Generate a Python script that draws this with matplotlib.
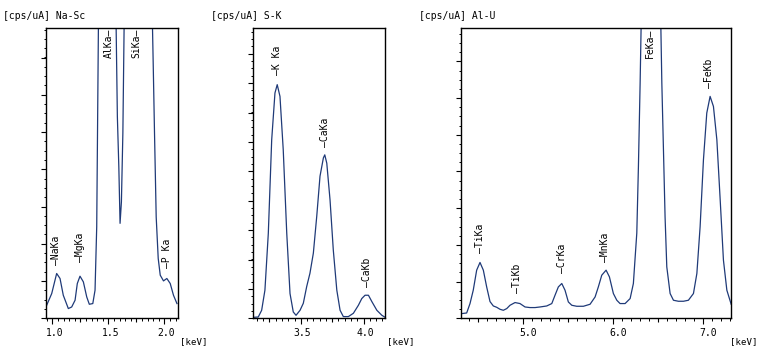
import matplotlib
matplotlib.use("Agg")
import matplotlib.pyplot as plt
import matplotlib.transforms as mtransforms
from matplotlib.ticker import MultipleLocator, FormatStrFormatter

# ---------------- data (energy in keV, intensity in arbitrary units) ----------------
# Panel 1: Na-Sc
energy_nasc = [0.950, 0.995, 1.039, 1.069, 1.098, 1.143, 1.173, 1.203, 1.223, 1.247,
               1.277, 1.307, 1.330, 1.361, 1.381, 1.396, 1.411, 1.440, 1.487, 1.530,
               1.569, 1.580, 1.593, 1.604, 1.616, 1.629, 1.640, 1.680, 1.740, 1.800,
               1.860, 1.893, 1.899, 1.911, 1.926, 1.944, 1.962, 1.991, 2.021, 2.051,
               2.080, 2.111]
counts_nasc = [13, 24.7, 44.7, 39.7, 23, 9.7, 11.3, 18, 34.7, 42,
               36.3, 21.3, 14, 14.7, 28, 91.3, 290, 600, 900, 600,
               290, 201, 151, 94.7, 116, 184.7, 290, 600, 950, 900,
               500, 290, 256, 184.7, 101, 59.7, 43, 37.3, 39.7, 34.7,
               23, 14.7]

# Panel 2: S-K
energy_sk = [3.127, 3.161, 3.188, 3.214, 3.241, 3.268, 3.294, 3.312, 3.334, 3.360,
             3.388, 3.414, 3.440, 3.462, 3.494, 3.520, 3.547, 3.573, 3.600, 3.627,
             3.653, 3.680, 3.691, 3.707, 3.733, 3.759, 3.787, 3.813, 3.839, 3.879,
             3.919, 3.959, 3.986, 4.012, 4.039, 4.066, 4.106, 4.146, 4.172]
counts_sk = [1, 1.3, 8, 28, 84.7, 178, 224.7, 233, 221.3, 168,
             84.7, 24.7, 6.3, 3, 8, 15, 31.7, 45, 65, 101.7,
             141.7, 160, 163, 154.7, 118, 68, 28, 8, 1.7, 1.7,
             5, 13, 19.7, 23, 23, 16.7, 8, 3, 1]

# Panel 3: Al-U
energy_alu = [4.316, 4.371, 4.408, 4.444, 4.482, 4.519, 4.556, 4.593, 4.630, 4.667,
              4.704, 4.741, 4.778, 4.816, 4.852, 4.908, 4.963, 5.019, 5.074, 5.130,
              5.186, 5.260, 5.316, 5.352, 5.389, 5.427, 5.463, 5.500, 5.538, 5.593,
              5.667, 5.741, 5.797, 5.833, 5.871, 5.919, 5.956, 6.000, 6.038, 6.074,
              6.130, 6.186, 6.222, 6.260, 6.278, 6.297, 6.308, 6.350, 6.400, 6.450,
              6.500, 6.527, 6.538, 6.556, 6.574, 6.593, 6.630, 6.667, 6.722, 6.778,
              6.833, 6.889, 6.927, 6.963, 7.000, 7.037, 7.074, 7.111, 7.149, 7.186,
              7.222, 7.260, 7.308]
counts_alu = [4.7, 5.3, 14.7, 28, 48, 55.7, 48, 31.3, 16.7, 12.3,
              11, 9, 8, 9.7, 13, 15.7, 14.7, 11.3, 10.7, 10.7,
              11.3, 12.3, 14.7, 23, 31.3, 34.7, 28, 16.3, 13, 12,
              12, 14, 21.3, 31.3, 43, 48, 41.3, 24.7, 18, 14.7,
              14.7, 19.7, 34.7, 85, 151.3, 234.7, 291, 600, 900, 850,
              550, 291, 234.7, 168, 101, 51.3, 24.7, 18, 17, 17,
              18, 24.7, 44.7, 91.3, 158, 204.7, 221.3, 211.3, 178, 118,
              58, 28, 14]

titles = ["[cps/uA] Na-Sc", "[cps/uA] S-K", "[cps/uA] Al-U"]

peak_names_nasc = ["—NaKa", "—MgKa", "AlKa—", "SiKa—", "—P Ka"]
peak_keV_nasc = [1.035, 1.247, 1.506, 1.747, 2.024]
peak_names_sk = ["—K Ka", "—CaKa", "—CaKb"]
peak_keV_sk = [3.313, 3.693, 4.026]
peak_names_alu = ["—TiKa", "—TiKb", "—CrKa", "—MnKa", "FeKa—", "—FeKb"]
peak_keV_alu = [4.519, 4.933, 5.433, 5.908, 6.408, 7.067]

# ---------------- styling / layout ----------------
LINE = "#1f3a78"
FONT = "DejaVu Sans Mono"
FS = 7

fig = plt.figure(figsize=(7.6, 3.5), dpi=100)
W, H = 760.0, 350.0
top_px, bot_px = 27.5, 318.3


def make_axes(left, right):
    return fig.add_axes([left / W, (H - bot_px) / H, (right - left) / W, (bot_px - top_px) / H])


panels = [
    dict(ax=make_axes(46, 178.3), e=energy_nasc, c=counts_nasc, xlim=(0.944, 2.123),
         major=0.5, mid=0.25, minor=0.05, ymaj=37.15, ymin=9.29,
         names=peak_names_nasc, pk=peak_keV_nasc, base=[53, 56, None, None, 50],
         labdx=2.0, title_x=3, unit_x=180, unit_ha="left"),
    dict(ax=make_axes(253, 385), e=energy_sk, c=counts_sk, xlim=(3.119, 4.171),
         major=0.5, mid=0.25, minor=0.05, ymaj=29.3, ymin=7.33,
         names=peak_names_sk, pk=peak_keV_sk, base=[243, 171, 31],
         labdx=1.5, title_x=211, unit_x=387, unit_ha="left"),
    dict(ax=make_axes(461, 731), e=energy_alu, c=counts_alu, xlim=(4.308, 7.306),
         major=1.0, mid=0.5, minor=0.1, ymaj=36.6, ymin=9.15,
         names=peak_names_alu, pk=peak_keV_alu, base=[65, 25, 45, 56, None, 230],
         labdx=4.5, title_x=419, unit_x=758, unit_ha="right"),
]

for i, p in enumerate(panels):
    ax = p["ax"]
    ax.plot(p["e"], p["c"], color=LINE, lw=0.9, solid_joinstyle="round")
    for s in ax.spines.values():
        s.set_linewidth(1.0)
        s.set_color("black")

    ax.xaxis.set_major_locator(MultipleLocator(p["major"]))
    ax.xaxis.set_minor_locator(MultipleLocator(p["minor"]))
    ax.yaxis.set_major_locator(MultipleLocator(p["ymaj"]))
    ax.yaxis.set_minor_locator(MultipleLocator(p["ymin"]))
    ax.tick_params(axis="x", which="major", direction="out", length=4.5, width=0.8,
                   pad=2.5, labelsize=FS)
    ax.tick_params(axis="x", which="minor", direction="out", length=2, width=0.7)
    ax.tick_params(axis="y", which="major", direction="out", length=3.5, width=0.8,
                   labelleft=False)
    ax.tick_params(axis="y", which="minor", direction="out", length=1.8, width=0.7)
    ax.xaxis.set_major_formatter(FormatStrFormatter("%.1f"))

    # medium-length ticks at intermediate positions on the energy axis
    lo, hi = p["xlim"]
    k = int(lo / p["mid"]) - 1
    while k * p["mid"] <= hi + 1e-9:
        v = k * p["mid"]
        if lo <= v <= hi and abs(v / p["major"] - round(v / p["major"])) > 1e-6:
            ax.plot([v, v], [0, -3.5], color="black", lw=0.8, clip_on=False,
                    solid_capstyle="butt")
        k += 1

    ax.set_xlim(*p["xlim"])
    ax.set_ylim(0, 290)

    fig.canvas.draw()
    off = mtransforms.ScaledTranslation(p["labdx"] / 100.0, 0, fig.dpi_scale_trans)
    for lab in ax.get_xticklabels():
        lab.set_fontfamily(FONT)
        lab.set_transform(lab.get_transform() + off)

    # titles and x unit
    fig.text(p["title_x"] / W, 1 - 16 / H, titles[i], fontsize=FS, family=FONT,
             ha="left", va="center")
    fig.text(p["unit_x"] / W, 1 - 341.5 / H, "[keV]", fontsize=6.6, family=FONT,
             ha=p["unit_ha"], va="center")

    # peak labels
    for name, kev, b in zip(p["names"], p["pk"], p["base"]):
        if b is None:
            ax.text(kev, 289, name, rotation=90, ha="center", va="top",
                    fontsize=FS, family=FONT, clip_on=False)
        else:
            ax.text(kev, b, name, rotation=90, ha="center", va="bottom",
                    fontsize=FS, family=FONT)

fig.savefig("out.png", dpi=100)
